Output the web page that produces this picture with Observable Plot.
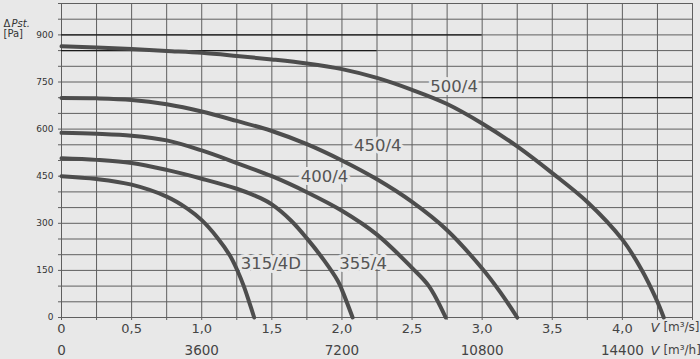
<!DOCTYPE html>
<html>
<head>
<meta charset="utf-8">
<script src="https://cdn.jsdelivr.net/npm/d3@7"></script>
<script src="https://cdn.jsdelivr.net/npm/@observablehq/plot@0.6"></script>
<style>
html, body { margin: 0; padding: 0; background: #e8e8e8; }
#chart svg { display: block; }
</style>
</head>
<body>
<div id="chart"></div>
<script>
// ---- data ----
const fans = ["500/4", "450/4", "400/4", "355/4", "315/4D"];

const q500 = [0, 0.25, 0.5, 0.75, 1.0, 1.25, 1.5, 1.75, 2.0, 2.25, 2.5, 2.75, 3.0, 3.25, 3.5, 3.75, 4.0, 4.14, 4.24, 4.295];
const p500 = [864, 860, 855, 849, 843, 833, 822, 809, 791, 763, 725, 680, 618, 545, 460, 368, 248, 150, 60, 0];

const q450 = [0, 0.25, 0.5, 0.75, 1.0, 1.25, 1.5, 1.75, 2.0, 2.25, 2.5, 2.75, 3.0, 3.13, 3.25];
const p450 = [699, 698, 693, 679, 656, 626, 594, 552, 500, 440, 368, 278, 156, 80, 0];

const q400 = [0, 0.25, 0.5, 0.75, 1.0, 1.25, 1.5, 1.75, 2.0, 2.25, 2.5, 2.62, 2.74];
const p400 = [588, 585, 579, 564, 532, 492, 450, 399, 340, 264, 158, 100, 0];

const q355 = [0, 0.25, 0.5, 0.75, 1.0, 1.25, 1.42, 1.5, 1.636, 1.75, 1.874, 1.97, 2.0, 2.076];
const p355 = [507, 502, 492, 470, 442, 410, 380, 360, 309, 252, 181, 117, 88, 0];

const q315 = [0, 0.25, 0.5, 0.75, 0.9, 1.0, 1.11, 1.2, 1.255, 1.3, 1.338, 1.374];
const p315 = [450, 441, 423, 385, 346, 310, 255, 198, 149, 100, 50, 0];

// curve label anchors (data units)
const labelQ = [2.80, 2.255, 1.876, 2.151, 1.493];
const labelP = [736, 548, 448, 171, 171];

// axis ticks
const xGrid = d3.range(0, 4.5001, 0.25);
const yGrid = d3.range(0, 1000.001, 50);
const yLabelStep = 150;
const xLabelMax = 4.0;
const m3hTicks = [0, 3600, 7200, 10800, 14400];

// emphasized (black) reference lines
const darkY = [900, 850, 700];
const darkX1 = [0, 0, 3.0];
const darkX2 = [3.0, 2.25, 4.5];

// ---- build tables ----
const series = [[q500, p500], [q450, p450], [q400, p400], [q355, p355], [q315, p315]];
const table = series.flatMap(([qs, ps], i) => qs.map((q, j) => ({fan: fans[i], q, p: ps[j]})));
const labels = fans.map((f, i) => ({fan: f, q: labelQ[i], p: labelP[i]}));
const dark = darkY.map((y, i) => ({y, x1: darkX1[i], x2: darkX2[i]}));

const BG = "#e8e8e8";
const GRID = "#5f5f5f";
const FONT = "DejaVu Sans";

const fmtX = d => d === 0 ? "0" : (d <= xLabelMax && Math.abs(d * 2 - Math.round(d * 2)) < 1e-9) ? d.toFixed(1).replace(".", ",") : "";
const fmtY = d => (d % yLabelStep === 0 && d < 1000) ? String(d) : "";

const chart = Plot.plot({
  width: 700,
  height: 359,
  marginLeft: 61,
  marginRight: 8,
  marginTop: 3,
  marginBottom: 42,
  style: {background: BG, fontFamily: FONT, overflow: "visible"},
  x: {domain: [0, 4.5], axis: null},
  y: {domain: [0, 1000], axis: null},
  marks: [
    Plot.ruleX(xGrid, {stroke: GRID, strokeWidth: 1}),
    Plot.ruleY(yGrid, {stroke: GRID, strokeWidth: 1}),
    Plot.ruleY(dark, {y: "y", x1: "x1", x2: "x2", stroke: "#1a1a1a", strokeWidth: 1.3}),
    Plot.axisX({ticks: xGrid, tickSize: 3, tickPadding: 3, tickFormat: fmtX, fontSize: 13, fill: "#444", stroke: GRID}),
    Plot.axisY({ticks: yGrid, tickSize: 3, tickPadding: 5, tickFormat: fmtY, fontSize: 9, fill: "#333", stroke: GRID}),
    Plot.text(m3hTicks, {x: d => d / 3600, y: () => 0, text: d => String(d), dy: 28, lineAnchor: "top", fontSize: 13.5, fill: "#444"}),
    Plot.text(["V"], {x: () => xLabelMax, y: () => 0, dx: 28, dy: 5, lineAnchor: "top", textAnchor: "start", fontStyle: "italic", fontSize: 13, fill: "#444"}),
    Plot.text(["[m³/s]"], {x: () => xLabelMax, y: () => 0, dx: 41, dy: 5, lineAnchor: "top", textAnchor: "start", fontSize: 12, fill: "#444"}),
    Plot.text(["V"], {x: () => xLabelMax, y: () => 0, dx: 28, dy: 28, lineAnchor: "top", textAnchor: "start", fontStyle: "italic", fontSize: 13, fill: "#444"}),
    Plot.text(["[m³/h]"], {x: () => xLabelMax, y: () => 0, dx: 41, dy: 28, lineAnchor: "top", textAnchor: "start", fontSize: 12, fill: "#444"}),
    Plot.text(["Δ"], {frameAnchor: "top-left", dx: -58, dy: 16, textAnchor: "start", fontSize: 10, fill: "#333"}),
    Plot.text(["Pst."], {frameAnchor: "top-left", dx: -50, dy: 16, textAnchor: "start", fontStyle: "italic", fontSize: 10, fill: "#333"}),
    Plot.text(["[Pa]"], {frameAnchor: "top-left", dx: -58, dy: 26, textAnchor: "start", fontSize: 10, fill: "#333"}),
    Plot.text(labels, {x: "q", y: "p", text: "fan", fontSize: 16.5, fill: "#555", stroke: BG, strokeWidth: 6, strokeLinejoin: "round"}),
    Plot.line(table, {x: "q", y: "p", z: "fan", curve: "catmull-rom", stroke: "#4d4d4d", strokeWidth: 4})
  ]
});
document.getElementById("chart").appendChild(chart);
</script>
</body>
</html>
